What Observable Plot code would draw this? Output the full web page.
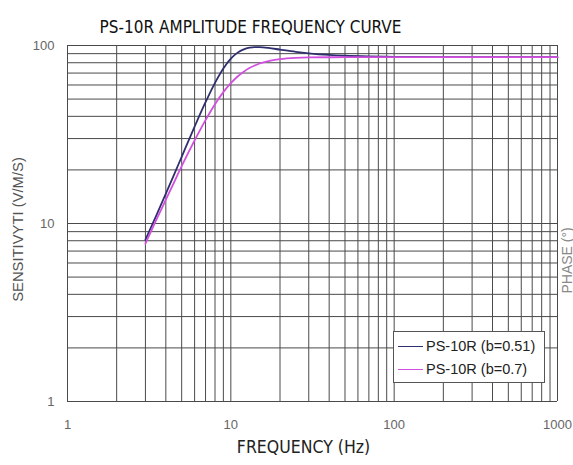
<!DOCTYPE html>
<html><head><meta charset="utf-8">
<script src="https://cdn.jsdelivr.net/npm/d3@7"></script>
<script src="https://cdn.jsdelivr.net/npm/@observablehq/plot@0.6"></script>
<style>
body{margin:0;background:#fff;}
#wrap{position:relative;width:573px;height:465px;overflow:hidden;background:#fff;}
#legend{position:absolute;left:393px;top:331px;width:152px;height:52px;background:#fff;border:1px solid #555;box-sizing:border-box;font-family:"Liberation Sans",Arial,sans-serif;font-size:14.5px;color:#222;}
#legend .row{position:absolute;left:4px;height:18px;line-height:18px;white-space:nowrap;}
#legend .sw{display:inline-block;width:25px;height:0;border-top:1.6px solid;vertical-align:middle;margin-right:3px;position:relative;top:-1px;}
</style></head><body><div id="wrap"></div>
<script>
const freq = [3,3.5,4,4.5,5,6,7,8,9,10,11,12,13,14,15,17,20,25,30,40,50,70,100,200,500,1000];
const sensB051 = [8.1,11.1,14.7,18.9,23.7,35.0,48.0,61.7,74.3,84.3,91.2,95.2,97.2,98.0,97.9,96.9,94.8,92.1,90.4,88.5,87.6,86.8,86.4,86.1,86.0,86.0];
const sensB07 = [7.7,10.5,13.6,17.1,21.0,29.3,38.1,46.8,54.7,61.4,67.0,71.3,74.7,77.2,79.2,81.8,83.8,85.2,85.7,85.9,86.0,86.0,86.0,86.0,86.0,86.0];
const seriesNames = ["PS-10R (b=0.51)", "PS-10R (b=0.7)"];
const seriesColors = ["#2f2f6f", "#d24fe0"];
const xGrid = [1,2,3,4,5,6,7,8,9,10,20,30,40,50,60,70,80,90,100,200,300,400,500,600,700,800,900,1000];
const yGrid = [1,2,3,4,5,6,7,8,9,10,20,30,40,50,60,70,80,90,100];
const xTicks = [1,10,100,1000];
const yTicks = [1,10,100];
const titleText = "PS-10R AMPLITUDE FREQUENCY CURVE";
const xLabel = "FREQUENCY (Hz)";
const yLabel = "SENSITIVYTI (V/M/S)";
const y2Label = "PHASE (°)";

const data051 = freq.map((f,i)=>({f, s: sensB051[i]}));
const data07 = freq.map((f,i)=>({f, s: sensB07[i]}));

const chart = Plot.plot({
  width: 573, height: 465,
  marginLeft: 67, marginRight: 16, marginTop: 45, marginBottom: 64,
  x: {type: "log", domain: [1, 1000], axis: null},
  y: {type: "log", domain: [1, 100], axis: null},
  style: {background: "#fff"},
  marks: [
    Plot.ruleX(xGrid, {x: d => d, stroke: "#4a4a4a", strokeWidth: 1}),
    Plot.ruleY(yGrid, {y: d => d, stroke: "#4a4a4a", strokeWidth: 1}),
    Plot.line(data051, {x: "f", y: "s", stroke: seriesColors[0], strokeWidth: 1.8, curve: "monotone-x"}),
    Plot.line(data07, {x: "f", y: "s", stroke: seriesColors[1], strokeWidth: 1.8, curve: "monotone-x"}),
    Plot.text(xTicks, {x: d => d, text: d => String(d), frameAnchor: "bottom", dy: 27, fill: "#666", fontSize: 13, fontFamily: "Liberation Sans, Arial, sans-serif"}),
    Plot.text(yTicks, {y: d => d, text: d => String(d), frameAnchor: "left", dx: -13, textAnchor: "end", fill: "#666", fontSize: 13, fontFamily: "Liberation Sans, Arial, sans-serif"}),
    Plot.text([titleText], {text: d => d, frameAnchor: "top-left", dx: 183, dy: -25, textAnchor: "middle", fill: "#111", fontSize: 17, fontFamily: "DejaVu Sans Condensed, DejaVu Sans, sans-serif"}),
    Plot.text([xLabel], {text: d => d, frameAnchor: "bottom-left", dx: 236, dy: 51, textAnchor: "middle", fill: "#222", fontSize: 17.5, fontFamily: "DejaVu Sans Condensed, DejaVu Sans, sans-serif"}),
    Plot.text([yLabel], {text: d => d, frameAnchor: "left", dx: -49, dy: 6, rotate: -90, textAnchor: "middle", fill: "#555", fontSize: 14.8, fontFamily: "Liberation Sans, Arial, sans-serif"}),
    Plot.text([y2Label], {text: d => d, frameAnchor: "bottom-right", dx: 14, dy: -108, rotate: -90, textAnchor: "start", fill: "#888", fontSize: 14, fontFamily: "Liberation Sans, Arial, sans-serif"})
  ]
});
const wrap = document.getElementById("wrap");
wrap.appendChild(chart);

const legend = document.createElement("div");
legend.id = "legend";
seriesNames.forEach((name, i) => {
  const row = document.createElement("div");
  row.className = "row";
  row.style.top = (5 + i * 23) + "px";
  const sw = document.createElement("span");
  sw.className = "sw";
  sw.style.borderTopColor = seriesColors[i];
  row.appendChild(sw);
  row.appendChild(document.createTextNode(name));
  legend.appendChild(row);
});
wrap.appendChild(legend);
</script></body></html>
